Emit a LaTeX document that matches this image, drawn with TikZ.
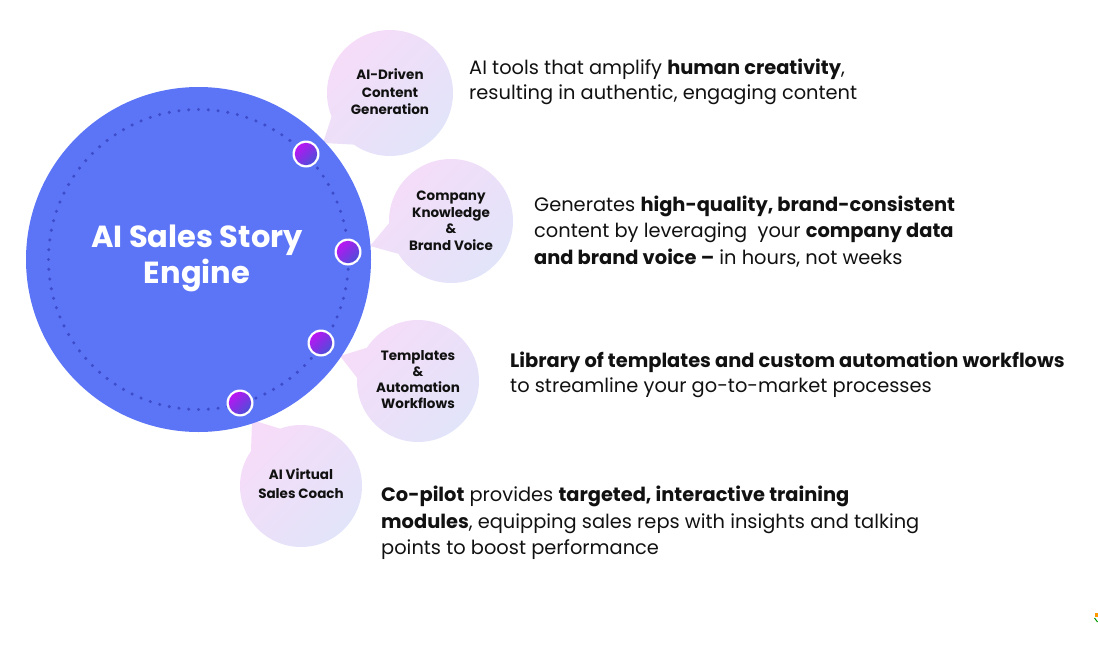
\documentclass[tikz,border=0pt]{standalone}
\usepackage{fontspec}
\setmainfont{Poppins}
\usetikzlibrary{calc}
\definecolor{bigblue}{HTML}{5C74F6}
\definecolor{dotblue}{HTML}{3D4CC9}
\definecolor{bubA}{HTML}{F6DCF8}
\definecolor{bubB}{HTML}{E2E4F9}
\definecolor{mkA}{HTML}{B915F2}
\definecolor{mkB}{HTML}{4C4ED8}
\definecolor{ink}{HTML}{111111}
\tikzset{
  bubble/.style={top color=bubA,bottom color=bubB,shading angle=45,draw=none},
  blabel/.style={font=\bfseries\fontsize{13.5}{17.5}\selectfont,align=center,text=ink,inner sep=0pt},
  body/.style={font=\fontsize{19.4}{26}\selectfont,anchor=base west,inner sep=0pt,text=ink},
  marker/.style={top color=mkA,bottom color=mkB,shading angle=45},
}
\begin{document}
\begin{tikzpicture}[x=1pt,y=-1pt]
\useasboundingbox (0,0) rectangle (1098,645);
% centres
\coordinate (C) at (198.5,259.5);
\coordinate (b1) at (390,93);
\coordinate (b2) at (451,221);
\coordinate (b3) at (418,381);
\coordinate (b4) at (301,486);
% bubbles with tails
\shade[bubble] (b1) circle (63) ($(b1)+(125:63)$) -- (323,143) -- ($(b1)+(158:63)$) -- cycle;
\shade[bubble] (b2) circle (62) ($(b2)+(148:62)$) -- (370,246) -- ($(b2)+(178:62)$) -- cycle;
\shade[bubble] (b3) circle (61) ($(b3)+(183:61)$) -- (340,356) -- ($(b3)+(213:61)$) -- cycle;
\shade[bubble] (b4) circle (61) ($(b4)+(215:61)$) -- (252,420) -- ($(b4)+(250:61)$) -- cycle;
% big circle
\fill[bigblue] (C) circle (172.5);
\foreach \a in {0,3.75,...,356.25} \fill[dotblue] ($(C)+(\a:150)$) circle (1.7);
% markers
\foreach \p/\n in {{(306,154)}/m1,{(348,252)}/m2,{(321,343)}/m3,{(240,403)}/m4}{
  \fill[white] \p circle (13.5);
  \shade[marker] \p circle (11.2);
}
\node[font=\bfseries\fontsize{30.5}{36}\selectfont,text=white,align=center] (title) at (197,258) {AI Sales Story\\Engine};
% bubble labels
\node[blabel] (l1) at (390,92) {AI-Driven\\Content\\Generation};
\node[blabel,font=\bfseries\fontsize{13.5}{16.5}\selectfont] (l2) at (451,221) {Company\\Knowledge\\\&\\Brand Voice};
\node[blabel,font=\bfseries\fontsize{13.5}{16}\selectfont] (l3) at (418,380) {Templates\\\&\\Automation\\Workflows};
\node[blabel,font=\bfseries\fontsize{13.5}{19}\selectfont] (l4) at (301,484) {AI Virtual\\Sales Coach};
% body text
\node[body] (t1a) at (469,74) {AI tools that amplify \textbf{human creativity},};
\node[body] (t1b) at (469,99) {resulting in authentic, engaging content};
\node[body] (t2a) at (534,211) {Generates \textbf{high-quality, brand-consistent}};
\node[body] (t2b) at (534,237) {content by leveraging\ \ your \textbf{company data}};
\node[body] (t2c) at (534,264) {\textbf{and brand voice –} in hours, not weeks};
\node[body] (t3a) at (510,367) {\textbf{Library of templates and custom automation workflows}};
\node[body] (t3b) at (510,392) {to streamline your go-to-market processes};
\node[body] (t4a) at (381,501) {\textbf{Co-pilot} provides \textbf{targeted, interactive training}};
\node[body] (t4b) at (381,528) {\textbf{modules}, equipping sales reps with insights and talking};
\node[body] (t4c) at (381,554) {points to boost performance};
% tiny corner mark
\fill[orange!80!yellow] (1095,613) rectangle (1098,617);
\draw[green!60!black,line width=1pt] (1094.5,618) -- (1097.5,622);
\end{tikzpicture}
\end{document}
